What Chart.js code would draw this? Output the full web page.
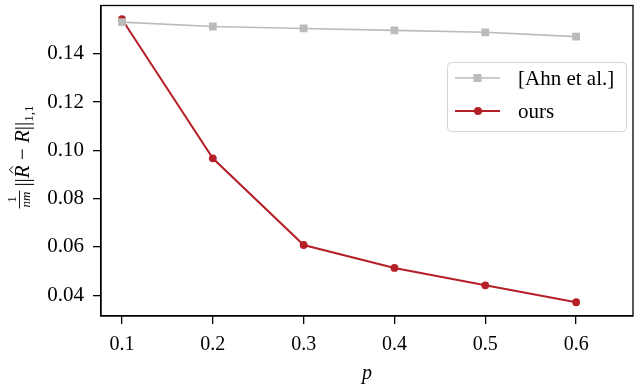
<!DOCTYPE html>
<html>
<head>
<meta charset="utf-8">
<script src="https://cdn.jsdelivr.net/npm/chart.js@4"></script>
<style>
  html, body { margin: 0; padding: 0; background: #fff; }
  #wrap { width: 640px; height: 387px; }
</style>
</head>
<body>
<div id="wrap"><canvas id="c"></canvas></div>
<script>
// valeurs
const pValues = [0.1, 0.2, 0.3, 0.4, 0.5, 0.6];
const ahnErr = [0.1531, 0.1513, 0.1505, 0.1497, 0.1489, 0.1471];
const oursErr = [0.1543, 0.0967, 0.0608, 0.0513, 0.0441, 0.0371];
const yTicks = [0.04, 0.06, 0.08, 0.10, 0.12, 0.14];
const xTicks = [0.1, 0.2, 0.3, 0.4, 0.5, 0.6];
const seriesNames = ["[Ahn et al.]", "ours"];

const GRAY = "#bbbbbb";
const RED = "#b51f27";
const FONT = "'Liberation Serif', 'DejaVu Serif', serif";

function pts(ys) {
  return pValues.map((x, i) => ({ x, y: ys[i] }));
}

// cadre, titres d'axes et légende dessinés à la main
const extras = {
  id: "extras",
  afterDraw(chart) {
    const { ctx, chartArea: a } = chart;
    ctx.save();
    // cadre
    ctx.strokeStyle = "#000";
    ctx.lineWidth = 1.3;
    ctx.strokeRect(a.left, a.top, a.right - a.left, a.bottom - a.top);

    // titre x
    ctx.fillStyle = "#000";
    ctx.font = "italic 20px " + FONT;
    ctx.textAlign = "center";
    ctx.textBaseline = "alphabetic";
    ctx.fillText("p", (a.left + a.right) / 2, 379);

    // titre y (tourné)
    ctx.translate(29, 157);
    ctx.rotate(-Math.PI / 2);
    const big = "21px " + FONT, bigI = "italic 21px " + FONT;
    const small = "13px " + FONT, smallI = "italic 13px " + FONT;
    const parts = [
      { t: "||", f: big }, { t: "R", f: bigI, hat: true }, { t: " − ", f: big },
      { t: "R", f: bigI }, { t: "||", f: big }, { t: "1,1", f: small, sub: true }
    ];
    ctx.font = smallI;
    const fracW = ctx.measureText("nm").width + 2;
    let total = fracW + 4;
    parts.forEach(p => { ctx.font = p.f; p.w = ctx.measureText(p.t).width; total += p.w; });
    let x = -total / 2;
    ctx.textAlign = "center";
    ctx.font = small;
    ctx.fillText("1", x + fracW / 2, -13);
    ctx.font = smallI;
    ctx.fillText("nm", x + fracW / 2, 1);
    ctx.lineWidth = 0.9;
    ctx.beginPath(); ctx.moveTo(x, -9.5); ctx.lineTo(x + fracW, -9.5); ctx.stroke();
    x += fracW + 4;
    ctx.textAlign = "left";
    parts.forEach(p => {
      ctx.font = p.f;
      ctx.fillText(p.t, x, p.sub ? 4 : 0);
      if (p.hat) {
        // accent circonflexe posé sur le R
        const cx = x + p.w / 2 + 2;
        ctx.lineWidth = 1;
        ctx.beginPath();
        ctx.moveTo(cx - 3.5, -16);
        ctx.lineTo(cx, -19.5);
        ctx.lineTo(cx + 3.5, -16);
        ctx.stroke();
      }
      x += p.w;
    });
    ctx.restore();

    // légende
    ctx.save();
    const L = 447, T = 62, W = 179, H = 69;
    ctx.fillStyle = "rgba(255,255,255,0.85)";
    ctx.strokeStyle = "#d6d6d6";
    ctx.lineWidth = 1;
    ctx.beginPath();
    ctx.roundRect(L + 0.5, T + 0.5, W, H, 4);
    ctx.fill(); ctx.stroke();
    const rows = [
      { y: 78, color: GRAY, style: "rect", lw: 1.5 },
      { y: 111, color: RED, style: "circle", lw: 2 }
    ];
    ctx.font = "21px " + FONT;
    ctx.textBaseline = "middle";
    rows.forEach((r, i) => {
      ctx.strokeStyle = r.color;
      ctx.fillStyle = r.color;
      ctx.lineWidth = r.lw;
      ctx.beginPath(); ctx.moveTo(455, r.y); ctx.lineTo(500, r.y); ctx.stroke();
      if (r.style === "rect") ctx.fillRect(473.5, r.y - 4, 8, 8);
      else { ctx.beginPath(); ctx.arc(478, r.y, 4, 0, Math.PI * 2); ctx.fill(); }
      ctx.fillStyle = "#000";
      ctx.fillText(seriesNames[i], 518, r.y + 1);
    });
    ctx.restore();
  }
};

new Chart(document.getElementById("c"), {
  type: "scatter",
  data: {
    datasets: [
      {
        label: seriesNames[0],
        data: pts(ahnErr),
        showLine: true,
        borderColor: GRAY,
        backgroundColor: GRAY,
        borderWidth: 1.6,
        pointStyle: "rect",
        pointRadius: 5.5,
        pointBorderWidth: 0
      },
      {
        label: seriesNames[1],
        data: pts(oursErr),
        showLine: true,
        borderColor: RED,
        backgroundColor: RED,
        borderWidth: 2,
        pointStyle: "circle",
        pointRadius: 3.9,
        pointBorderWidth: 0
      }
    ]
  },
  options: {
    responsive: true,
    maintainAspectRatio: false,
    animation: false,
    layout: { padding: { top: 2, right: 7, left: 0, bottom: 0 } },
    plugins: { legend: { display: false }, tooltip: { enabled: false } },
    scales: {
      x: {
        type: "linear",
        min: 0.0769,
        max: 0.6626,
        afterBuildTicks: (s) => { s.ticks = xTicks.map(v => ({ value: v })); },
        afterFit: (s) => { s.height = 71; s.paddingLeft = 0; s.paddingRight = 0; },
        ticks: { color: "#000", font: { family: FONT, size: 20 }, padding: 9, maxRotation: 0,
                 callback: (v) => Number(v).toFixed(1) },
        grid: { drawOnChartArea: false, drawTicks: true, tickLength: 8, color: "#000", lineWidth: 1.3 },
        border: { display: true, color: "#000", width: 1.3 }
      },
      y: {
        type: "linear",
        min: 0.0314,
        max: 0.160,
        afterBuildTicks: (s) => { s.ticks = yTicks.map(v => ({ value: v })); },
        afterFit: (s) => { s.width = 101; s.paddingTop = 0; s.paddingBottom = 0; },
        ticks: { color: "#000", font: { family: FONT, size: 21 }, padding: 9,
                 callback: (v) => Number(v).toFixed(2) },
        grid: { drawOnChartArea: false, drawTicks: true, tickLength: 8, color: "#000", lineWidth: 1.3 },
        border: { display: true, color: "#000", width: 1.3 }
      }
    }
  },
  plugins: [extras]
});
</script>
</body>
</html>
